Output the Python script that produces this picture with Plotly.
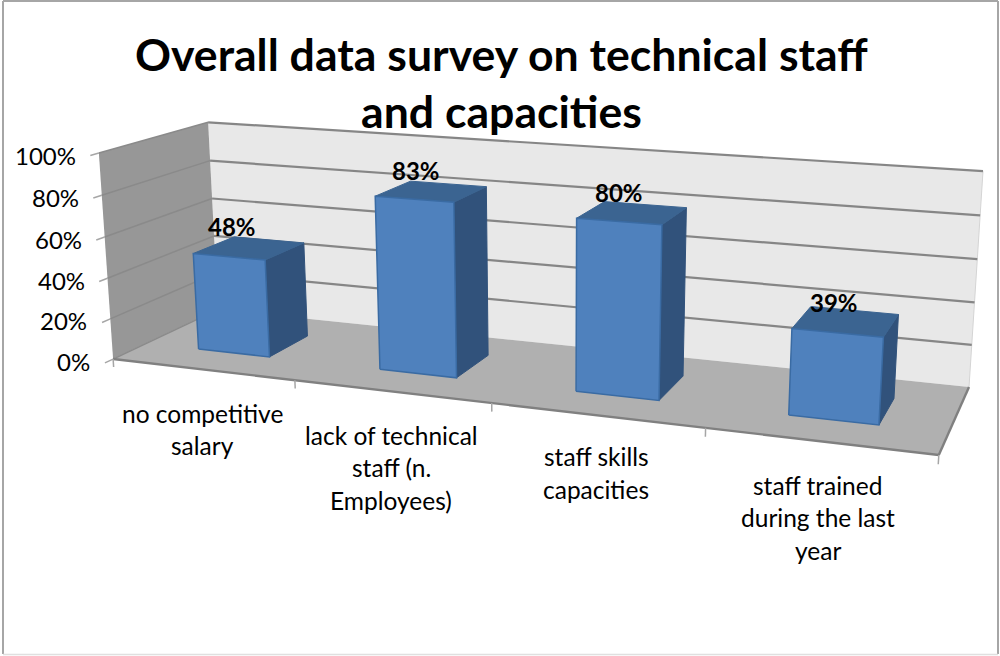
import numpy as np
import plotly.graph_objects as go

# Chart data
TITLE_LINES = ["Overall data survey on technical staff", "and capacities"]
CATEGORY_LINES = [
    ["no competitive", "salary"],
    ["lack of technical", "staff (n.", "Employees)"],
    ["staff skills", "capacities"],
    ["staff trained", "during the last", "year"],
]
VALUES = [48, 83, 80, 39]
VALUE_TICKS = [0, 20, 40, 60, 80, 100]

# Style
FONT = "Lato"
FRONT = "#4F81BD"
TOP = "#3B6491"
SIDE = "#31527B"
EDGE = "#3A6BA3"
BACK_WALL = "#E8E8E8"
LEFT_WALL = "#979797"
FLOOR = "#B0B0B0"
GRID = "#868686"
TICK = "#A6A6A6"

# Perspective camera for the 3-D box: (category, depth, percent) -> page position.
# Solved by least squares from where the box corners and axis ticks sit on the page.
CALIBRATION = [
    ((0, 0, 0), (113, 358)), ((0, 0, 100), (99, 153)), ((0, 1, 100), (208, 122)),
    ((0, 1, 0), (218, 311)), ((4, 1, 100), (983, 172)), ((4, 1, 0), (969, 386)),
    ((4, 0, 0), (939, 456)), ((1, 0, 0), (295, 380)), ((2, 0, 0), (492, 403)),
    ((3, 0, 0), (705, 428)), ((0, 0, 50), (106, 258)), ((0, 1, 50), (213, 217)),
    ((4, 1, 50), (976, 280)),
]


def solve_camera(pairs):
    rows = []
    for (u, d, h), (px, py) in pairs:
        p = [u, d, h / 100, 1]
        x, y = px / 1000, py / 1000
        rows.append(p + [0, 0, 0, 0] + [-x * c for c in p])
        rows.append([0, 0, 0, 0] + p + [-y * c for c in p])
    return np.linalg.svd(np.array(rows, float))[2][-1].reshape(3, 4)


CAMERA = solve_camera(CALIBRATION)


def project(u, d, h):
    v = CAMERA @ np.array([u, d, h / 100, 1.0])
    return 1000 * v[0] / v[2], 1000 * v[1] / v[2]


fig = go.Figure()


def polygon(points, fill, line=None, width=0):
    xy = [project(*p) for p in points]
    xy.append(xy[0])
    fig.add_trace(go.Scatter(
        x=[a for a, _ in xy], y=[b for _, b in xy], mode="lines", fill="toself",
        fillcolor=fill, line=dict(color=line or fill, width=width if line else 0),
        hoverinfo="skip", showlegend=False,
    ))


def segment(a, b, color, width):
    pa, pb = project(*a), project(*b)
    fig.add_trace(go.Scatter(
        x=[pa[0], pb[0]], y=[pa[1], pb[1]], mode="lines",
        line=dict(color=color, width=width), hoverinfo="skip", showlegend=False,
    ))


n = len(VALUES)
top = max(VALUE_TICKS)

# Walls and floor
polygon([(0, 1, 0), (n, 1, 0), (n, 1, top), (0, 1, top)], BACK_WALL)
polygon([(0, 0, 0), (0, 1, 0), (0, 1, top), (0, 0, top)], LEFT_WALL)
polygon([(0, 0, 0), (n, 0, 0), (n, 1, 0), (0, 1, 0)], FLOOR)
segment((n, 1, 0), (n, 1, top), "#D4D4D4", 1)

# Gridlines over the walls, with ticks on the value axis
for t in VALUE_TICKS:
    if t > 0:
        segment((0, 1, t), (n, 1, t), GRID, 2.2)
    segment((0, 0, t), (0, 1, t), "#8A8A8A", 1.5)
    segment((0, -0.07, t), (0, 0, t), TICK, 1.5)

# Floor edges and category ticks
segment((0, 0, 0), (n, 0, 0), "#808080", 2.4)
segment((n, 0, 0), (n, 1, 0), "#808080", 2.4)
for i in range(n + 1):
    segment((i, 0, -4), (i, 0, 0), TICK, 1.5)

# Bars: gap width of 150% on both the category and depth axes
SPAN = 1 / 2.5
D0, D1 = (1 - SPAN) / 2, (1 + SPAN) / 2
for i, v in enumerate(VALUES):
    u0, u1 = i + D0, i + D1
    polygon([(u1, D0, 0), (u1, D1, 0), (u1, D1, v), (u1, D0, v)], SIDE, SIDE, 1)
    polygon([(u0, D0, v), (u1, D0, v), (u1, D1, v), (u0, D1, v)], TOP, TOP, 1)
    polygon([(u0, D0, 0), (u1, D0, 0), (u1, D0, v), (u0, D0, v)], FRONT, EDGE, 1.5)

annotations = []


def label(x, y, text, size, bold=False, anchor="center", xshift=0, yshift=0):
    annotations.append(dict(
        x=x, y=y, xref="x", yref="y", text=f"<b>{text}</b>" if bold else text,
        showarrow=False, xanchor=anchor, yanchor="middle", xshift=xshift, yshift=yshift,
        font=dict(family=FONT, size=size, color="#000000"),
    ))


# Value labels above each bar's top face
for i, v in enumerate(VALUES):
    x, y = project(i + 0.5, 0.5, v)
    label(x, y, f"{v}%", 24, bold=True, xshift=-17.5 + 2 * i, yshift=21.5 - 0.8 * i)

# Value axis labels
for t in VALUE_TICKS:
    x, y = project(0, 0, t)
    label(x, y, f"{t}%", 24, anchor="right", xshift=-21, yshift=-2)

# Category labels stepping down the floor's front edge
LABEL_DROP = [44, 44, 41.5, 44]
LABEL_SIDEWAYS = [0, 0, 0, -2]
for i, lines in enumerate(CATEGORY_LINES):
    x, y = project(i + 0.5, 0, 0)
    for k, line in enumerate(lines):
        label(x, y, line, 24.5, xshift=LABEL_SIDEWAYS[i], yshift=-(LABEL_DROP[i] + 32.5 * k))

# Title
for k, line in enumerate(TITLE_LINES):
    label(501, 53 + 57 * k, line, 44.6, bold=True)

# Page border, paler along the bottom
FRAME_SIDES = [((3, 1), (3, 654)), ((3, 1), (998, 1)), ((998, 1), (998, 654))]
shapes = [dict(type="line", xref="x", yref="y", x0=a[0], y0=a[1], x1=b[0], y1=b[1],
               line=dict(color="#A6A6A6", width=2), layer="below") for a, b in FRAME_SIDES]
shapes.append(dict(type="line", xref="x", yref="y", x0=3, y0=654.5, x1=998, y1=654.5,
                   line=dict(color="#E0E0E0", width=1.5), layer="below"))

fig.update_layout(
    width=1000, height=656, margin=dict(l=0, r=0, t=0, b=0), autosize=False,
    paper_bgcolor="#FFFFFF", plot_bgcolor="#FFFFFF", showlegend=False,
    xaxis=dict(range=[0, 1000], visible=False, fixedrange=True),
    yaxis=dict(range=[656, 0], visible=False, fixedrange=True),
    annotations=annotations,
    shapes=shapes,
)

fig.write_html("out.html", config=dict(displayModeBar=False))
